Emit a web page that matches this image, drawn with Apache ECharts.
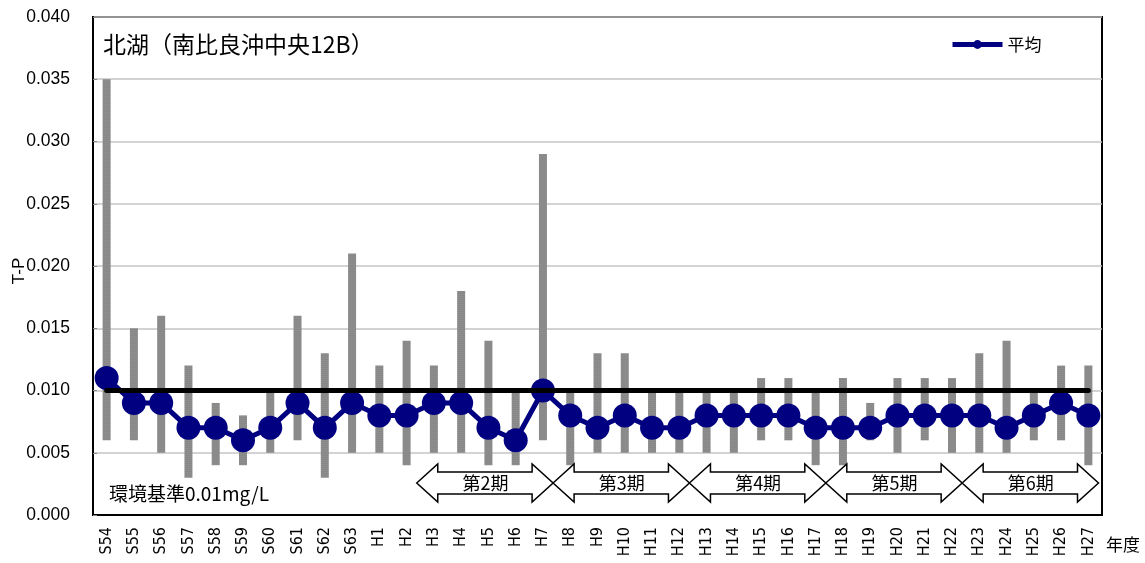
<!DOCTYPE html>
<html><head><meta charset="utf-8">
<script src="https://cdn.jsdelivr.net/npm/echarts@6/dist/echarts.min.js"></script>
<style>html,body{margin:0;padding:0;background:#fff}#c{width:1145px;height:563px}</style>
</head><body><div id="c"></div>
<script>
const categories = ['S54','S55','S56','S57','S58','S59','S60','S61','S62','S63',
  'H1','H2','H3','H4','H5','H6','H7','H8','H9','H10','H11','H12','H13','H14','H15','H16','H17','H18','H19','H20','H21','H22','H23','H24','H25','H26','H27'];
const meanValues = [0.011,0.009,0.009,0.007,0.007,0.006,0.007,0.009,0.007,0.009,
  0.008,0.008,0.009,0.009,0.007,0.006,0.010,0.008,0.007,0.008,0.007,0.007,0.008,0.008,0.008,0.008,0.007,0.007,0.007,0.008,0.008,0.008,0.008,0.007,0.008,0.009,0.008];
const maxValues = [0.035,0.015,0.016,0.012,0.009,0.008,0.010,0.016,0.013,0.021,
  0.012,0.014,0.012,0.018,0.014,0.010,0.029,0.010,0.013,0.013,0.010,0.010,0.010,0.010,0.011,0.011,0.010,0.011,0.009,0.011,0.011,0.011,0.013,0.014,0.010,0.012,0.012];
const minValues = [0.006,0.006,0.005,0.003,0.004,0.004,0.005,0.006,0.003,0.005,
  0.005,0.004,0.005,0.005,0.004,0.004,0.006,0.004,0.005,0.005,0.005,0.005,0.005,0.005,0.006,0.006,0.004,0.004,0.006,0.005,0.006,0.005,0.005,0.005,0.006,0.006,0.004];
const standardValue = 0.01;
const yTicks = [0, 0.005, 0.010, 0.015, 0.020, 0.025, 0.030, 0.035, 0.040];
// periods: [first category index, last category index, label]
const periodStart = [12, 17, 22, 27, 32];
const periodEnd = [16, 21, 26, 31, 36];
const periodLabels = ['第2期','第3期','第4期','第5期','第6期'];

const FONT = 'Liberation Sans';
const NFONT = "'Liberation Sans Narrow', 'DejaVu Sans Condensed', sans-serif";
const JFONT = 'Noto Sans CJK JP';

const chart = echarts.init(document.getElementById('c'), null, {renderer: 'canvas'});
const rangeValues = maxValues.map((v, i) => +(v - minValues[i]).toFixed(4));
const standardLine = categories.map(() => standardValue);
const periodData = periodStart.map((s, i) => [s, periodEnd[i], i]);

chart.setOption({
  animation: false,
  title: {
    text: '北湖（南比良沖中央12B）', left: 98, top: 28,
    textStyle: {fontSize: 23, fontWeight: 'normal', color: '#000', fontFamily: JFONT}
  },
  legend: {
    data: ['平均'], left: 945, top: 31, itemWidth: 50, itemHeight: 11, itemGap: 5,
    lineStyle: {width: 5},
    textStyle: {fontSize: 17, color: '#000', fontFamily: JFONT}
  },
  graphic: [
    {type: 'text', left: 1106, top: 536, style: {text: '年度', fontSize: 17, fill: '#000', fontFamily: JFONT}},
    {type: 'text', left: 109, top: 484, style: {text: '環境基準0.01mg/L', fontSize: 19, fill: '#000', fontFamily: JFONT}},
    {type: 'text', x: 19, y: 271, rotation: Math.PI / 2,
      style: {text: 'T-P', fontSize: 17, fill: '#000', fontFamily: FONT, align: 'center', verticalAlign: 'middle'}}
  ],
  grid: {left: 93, right: 43, top: 17, bottom: 48, show: true, borderColor: '#000', borderWidth: 2,
    containLabel: false, outerBoundsMode: 'none'},
  xAxis: {
    type: 'category', data: categories, boundaryGap: true,
    axisLine: {lineStyle: {color: '#000', width: 2}},
    axisTick: {inside: true, length: 4, lineStyle: {color: '#888'}},
    axisLabel: {rotate: 90, fontSize: 16, color: '#000', fontFamily: NFONT, margin: 12, interval: 0}
  },
  yAxis: {
    type: 'value', min: 0, max: 0.04, interval: 0.005,
    axisLine: {show: true, lineStyle: {color: '#000', width: 2}},
    axisTick: {show: true, inside: true, length: 4, lineStyle: {color: '#888'}},
    axisLabel: {fontSize: 17.5, color: '#000', fontFamily: FONT, margin: 23,
      formatter: v => v.toFixed(3)},
    splitLine: {lineStyle: {color: '#c4c4c4', width: 1.5}}
  },
  series: [
    {name: 'min', type: 'bar', stack: 'r', data: minValues, barWidth: 8,
      itemStyle: {color: 'transparent'}, silent: true, z: 1},
    {name: 'range', type: 'bar', stack: 'r', data: rangeValues, barWidth: 8,
      itemStyle: {color: '#888888', decal: {symbol: 'rect', symbolSize: 0.5, dashArrayX: [1, 0], dashArrayY: [1, 1], color: 'rgba(200,200,200,0.35)'}}, z: 1},
    {name: '平均', type: 'line', data: meanValues, symbol: 'circle', symbolSize: 24,
      lineStyle: {color: '#000080', width: 5}, itemStyle: {color: '#000080'}, z: 3},
    {name: 'standard', type: 'line', data: standardLine, symbol: 'none',
      lineStyle: {color: '#000', width: 5, cap: 'round'}, z: 4, silent: true},
    {name: 'periods', type: 'custom', data: periodData, encode: {x: [0, 1]}, clip: false, z: 5,
      renderItem: (params, api) => {
        const s = api.value(0), e = api.value(1), idx = api.value(2);
        const band = api.size([1, 0])[0];
        const base = api.coord([s, 0]);
        const cy = base[1] - 32;
        const bl = api.coord([s, 0])[0] - band / 2;
        const br = api.coord([e, 0])[0] + band / 2;
        const h = 21, hh = 19, sh = 11;
        const L = bl - 3.5;
        const R = br - 3.5;
        const pts = [[L, cy], [L + h, cy - hh], [L + h, cy - sh], [R - h, cy - sh], [R - h, cy - hh], [R, cy],
          [R - h, cy + hh], [R - h, cy + sh], [L + h, cy + sh], [L + h, cy + hh]];
        return {type: 'group', children: [
          {type: 'polygon', shape: {points: pts}, style: {fill: '#fff', stroke: '#000', lineWidth: 1.5}},
          {type: 'text', style: {text: periodLabels[idx], x: (bl + br) / 2 - 3, y: cy, align: 'center', verticalAlign: 'middle',
            fontSize: 18, fill: '#000', fontFamily: JFONT}}
        ]};
      }}
  ]
});
</script></body></html>
